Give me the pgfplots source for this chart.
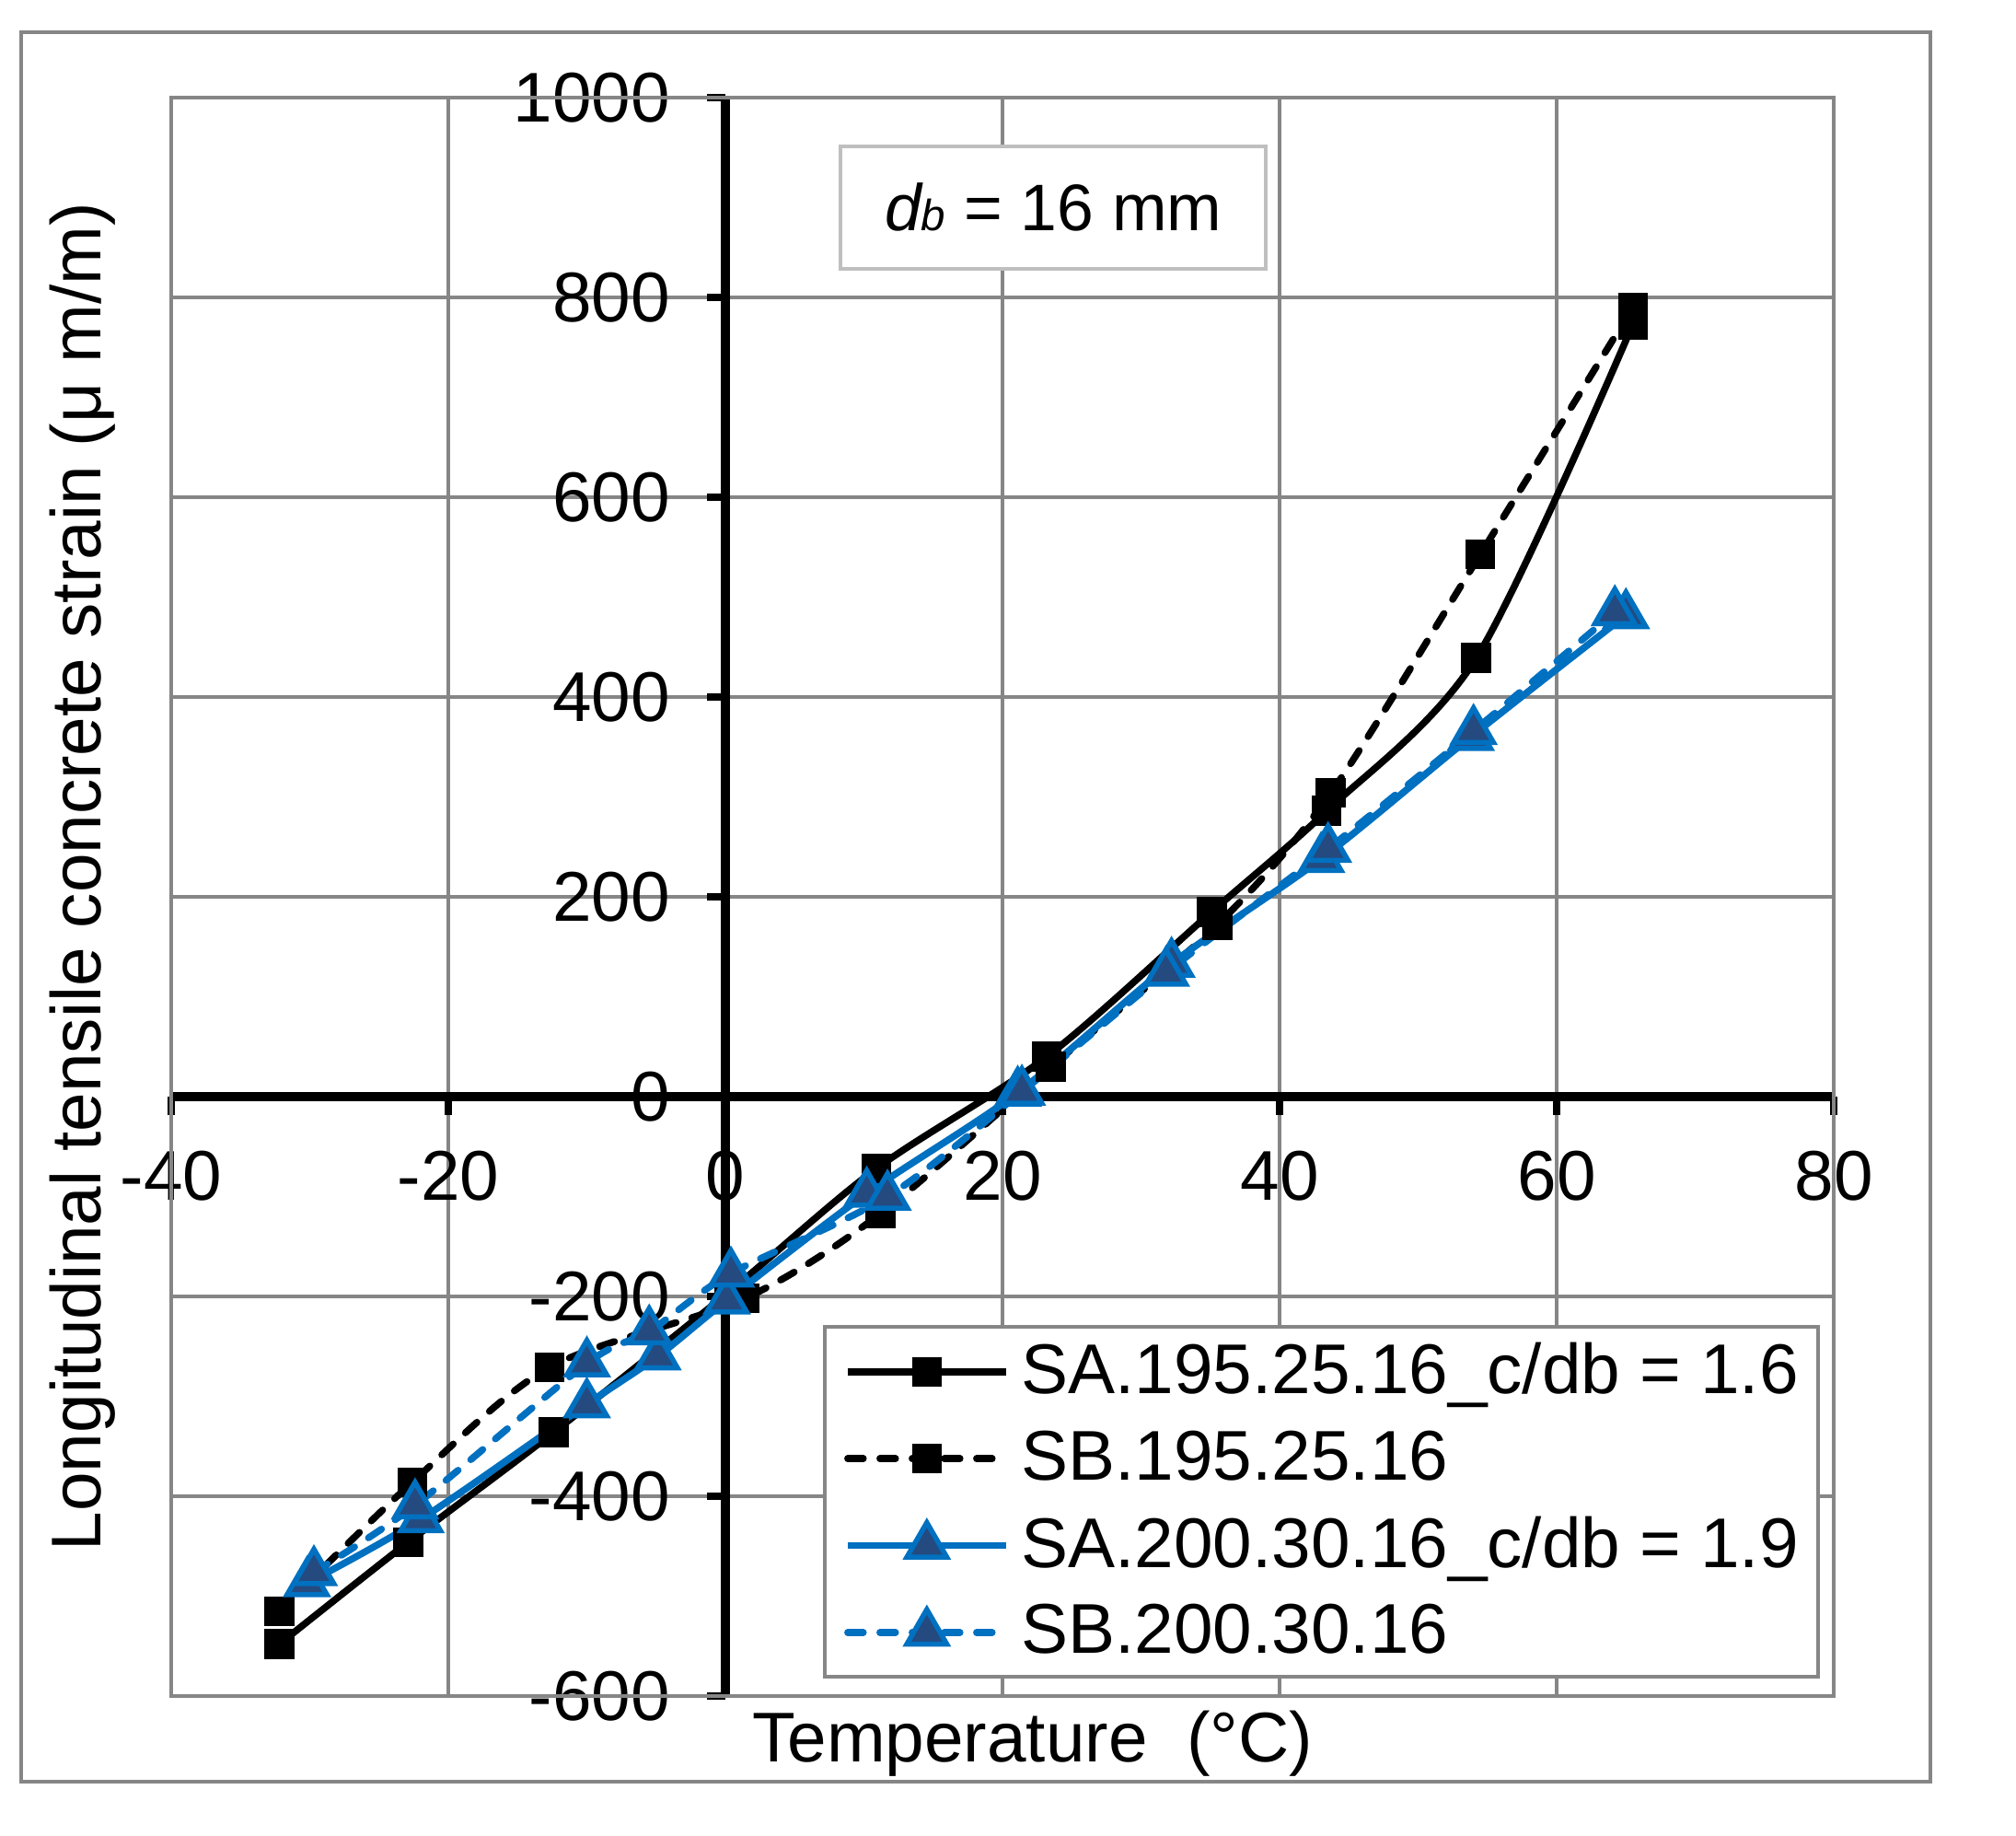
\documentclass[border=0pt]{standalone}
\usepackage{fontspec}
\setmainfont{Liberation Sans}
\usepackage{pgfplots}
\pgfplotsset{compat=1.18}
\definecolor{gridgray}{RGB}{134,134,134}
\definecolor{boxgray}{RGB}{191,191,191}
\definecolor{xblue}{RGB}{0,112,192}
\definecolor{tfill}{RGB}{36,74,128}
\newcommand\bigf{\fontsize{15.3}{18}\selectfont}

\pgfplotstableread{
x y
-32.2 -548
-22.9 -446
-12.4 -336
0.3 -195
10.9 -72
23.2 40
35.1 185
43.4 286
54.2 439
65.5 773
}\saA
\pgfplotstableread{
x y
-32.2 -515
-22.6 -386
-12.7 -271
1.4 -202
11.2 -117
23.5 30
35.5 172
43.7 304
54.5 543
65.5 790
}\sbA
\pgfplotstableread{
x y
-30.2 -487
-22.0 -423
-10.0 -308
-4.9 -260
0.1 -204
10.2 -97
21.1 4
32.2 133
43.0 238
53.8 360
65.0 482
}\saB
\pgfplotstableread{
x y
-29.7 -476
-22.4 -409
-10.0 -267
-5.5 -235
0.4 -177
11.7 -100
21.4 5
31.8 124
43.5 248
54.0 366
64.2 485
}\sbB

\begin{document}
\begin{tikzpicture}
\begin{axis}[
  scale only axis, width=361.2pt, height=347.2pt,
  xmin=-40, xmax=80, ymin=-600, ymax=1000,
  enlargelimits=false,
  axis lines=middle,
  axis line style={-, black, line width=1.9pt},
  hide obscured x ticks=false, hide obscured y ticks=false,
  xtick={-40,-20,...,80}, ytick={-600,-400,...,1000},
  xticklabels={-40,-20,0,20,40,60,80},
  yticklabels={-600,-400,-200,0,200,400,600,800,1000},
  tick align=outside, major tick length=4pt,
  tick style={black, line width=1.7pt},
  grid=major, grid style={gridgray, line width=0.85pt},
  ticklabel style={font=\bigf},
  xticklabel style={yshift=-4.3pt},
  yticklabel style={xshift=-4.5pt},
  clip=false,
  legend cell align=left,
  legend style={at={(0.9917,0.0109)}, anchor=south east, draw=gridgray, line width=0.85pt,
    fill=white, font=\bigf, inner xsep=4.2pt, inner ysep=1.5pt, row sep=2.5pt,
    nodes={inner xsep=0pt},
    /tikz/every odd column/.append style={column sep=2.6pt}},
  legend image code/.code={
    \draw[mark repeat=2,mark phase=2] plot coordinates {(0pt,0pt) (17.2pt,0pt) (34.4pt,0pt)};
  },
]
\draw[gridgray, line width=0.85pt] (rel axis cs:0,0) rectangle (rel axis cs:1,1);

\addplot[black, line width=1.5pt, smooth, mark=square*, mark size=3pt,
  mark options={solid, fill=black, draw=black, line width=0.5pt}] table {\saA};
\addlegendentry{SA.195.25.16\_c/db = 1.6}
\addplot[black, line width=1.5pt, smooth, line cap=round, dash pattern=on 3.4pt off 3.6pt,
  mark=square*, mark size=3pt, mark options={solid, fill=black, draw=black, line width=0.5pt}] table {\sbA};
\addlegendentry{SB.195.25.16}
\addplot[xblue, line width=1.5pt, smooth, mark=triangle*, mark size=5pt,
  mark options={solid, fill=tfill, draw=xblue, line width=1.1pt}] table {\saB};
\addlegendentry{SA.200.30.16\_c/db = 1.9}
\addplot[xblue, line width=1.5pt, smooth, line cap=round, dash pattern=on 3.4pt off 3.6pt,
  mark=triangle*, mark size=5pt, mark options={solid, fill=tfill, draw=xblue, line width=1.1pt}] table {\sbB};
\addlegendentry{SB.200.30.16}

\node[draw=boxgray, line width=0.85pt, fill=white, minimum width=92.4pt, minimum height=26.6pt,
  font=\fontsize{14.3}{17}\selectfont, inner sep=0pt] at (rel axis cs:0.5305,0.9312)
  {{\itshape d{\fontsize{9.5}{12}\selectfont b}} = 16 mm};

\node[font=\bigf, anchor=base] at (rel axis cs:0.518,-0.0409) {Temperature\ \ (°C)};
\node[font=\bigf, rotate=90, anchor=base] at (rel axis cs:-0.0421,0.5127)
  {Longitudinal tensile concrete strain (μ m/m)};

\draw[gridgray, line width=0.85pt] (rel axis cs:-0.0904,-0.05357) rectangle (rel axis cs:1.0581,1.0409);

\coordinate (bbsw) at (rel axis cs:-0.10299,-0.08698);
\coordinate (bbne) at (rel axis cs:1.10963,1.06106);
\end{axis}
\pgfresetboundingbox
\path (bbsw) rectangle (bbne);
\end{tikzpicture}
\end{document}
